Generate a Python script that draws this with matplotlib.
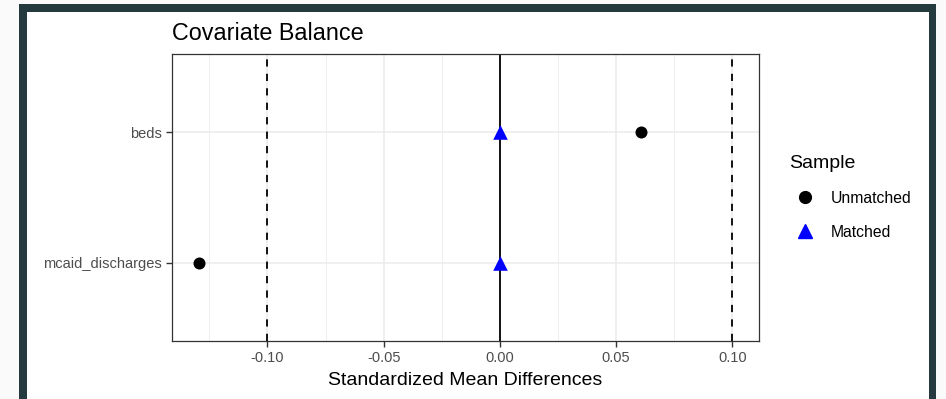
import matplotlib
matplotlib.use("Agg")
import matplotlib.pyplot as plt
from matplotlib.patches import Rectangle
from matplotlib.lines import Line2D

plt.rcParams['font.family'] = ['Liberation Sans', 'DejaVu Sans']

covariates = ["mcaid_discharges", "beds"]
unmatched = [-0.1296, 0.0609]
matched = [0.0, 0.0]
thresholds = [-0.1, 0.1]
xticks = [-0.10, -0.05, 0.00, 0.05, 0.10]
xtick_labels = ["-0.10", "-0.05", "0.00", "0.05", "0.10"]
minor_ticks = [-0.125, -0.075, -0.025, 0.025, 0.075]

W, H = 946, 399
fig = plt.figure(figsize=(W/100, H/100), dpi=100)
fig.patch.set_facecolor('#fafafa')

# dark frame and white content area
fig.patches.append(Rectangle((19/W, 0), (936-19)/W, (H-4)/H, transform=fig.transFigure,
                             facecolor='#243a3f', edgecolor='none', zorder=-10))
fig.patches.append(Rectangle((27/W, 0), (929-27)/W, (H-12)/H, transform=fig.transFigure,
                             facecolor='white', edgecolor='none', zorder=-9))

left, right, top, bottom = 172, 759, 54, 341
ax = fig.add_axes([left/W, 1-bottom/H, (right-left)/W, (bottom-top)/H])
ax.set_facecolor('white')

ypos = list(range(1, len(covariates)+1))

xmin, xmax = min(unmatched + thresholds), max(unmatched + thresholds)
pad = (xmax - xmin) * 0.05
ax.set_xlim(xmin - pad, xmax + pad)
ax.set_ylim(0.4, len(covariates) + 0.6)

# grid
for m in minor_ticks:
    ax.axvline(m, color='#ebebeb', lw=0.6, zorder=1)
for t in xticks:
    ax.axvline(t, color='#ebebeb', lw=1.1, zorder=1)
for y in ypos:
    ax.axhline(y, color='#ebebeb', lw=1.1, zorder=1)

ax.axvline(0, color='black', lw=1.3, zorder=2)
for t in thresholds:
    ax.axvline(t, color='black', lw=1.3, ls=(0, (4, 4)), zorder=2)

ax.scatter(unmatched, ypos, marker='o', s=75, color='black', zorder=3, label='Unmatched', linewidths=0)
ax.scatter(matched, ypos, marker='^', s=110, color='blue', zorder=4, label='Matched', linewidths=0)

ax.set_xticks(xticks)
ax.set_xticklabels(xtick_labels)
ax.set_yticks(ypos)
ax.set_yticklabels(covariates)
ax.tick_params(axis='both', length=4, width=1.0, color='#333333', labelcolor='#4d4d4d',
               labelsize=10.5, pad=3)
for s in ax.spines.values():
    s.set_color('#333333')
    s.set_linewidth(0.9)

ax.set_xlabel("Standardized Mean Differences", fontsize=14, labelpad=5, color='black')
fig.text(172/W, 1-40/H, "Covariate Balance", fontsize=16.8, ha='left', va='baseline')

handles = [Line2D([], [], marker='o', color='black', ls='none', markersize=8.5),
           Line2D([], [], marker='^', color='blue', ls='none', markersize=10.5)]
leg = fig.legend(handles, ['Unmatched', 'Matched'], title='Sample', loc='upper left',
                 bbox_to_anchor=(775/W, 1-141/H), frameon=False, fontsize=11.3,
                 title_fontsize=14, handletextpad=0.65, labelspacing=1.2, alignment='left')

fig.savefig('out.png', dpi=100, facecolor=fig.get_facecolor())
